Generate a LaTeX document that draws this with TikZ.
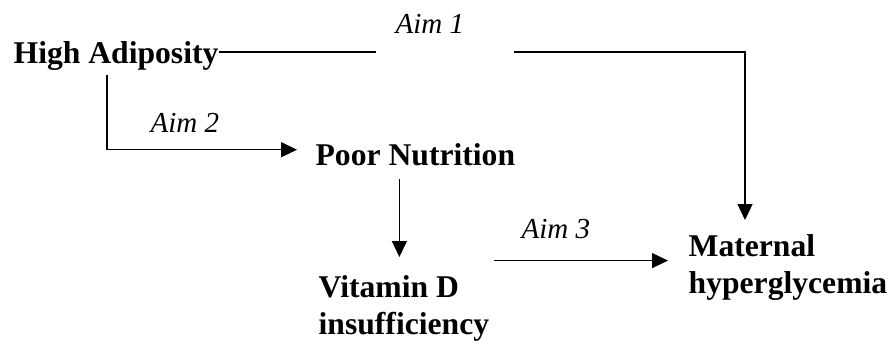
\documentclass[tikz,border=0pt]{standalone}
\usepackage{fontspec}
\setmainfont{Liberation Serif}
\usepackage{tikz}
\usetikzlibrary{arrows.meta}

\begin{document}
\begin{tikzpicture}[>={Triangle[length=0.32cm,width=0.3cm]}, line width=0.75pt,
        factor/.style={inner sep=0pt,align=left,font=\bfseries\fontsize{18}{21}\selectfont},
        aim/.style={inner sep=0pt,anchor=base west,font=\itshape\fontsize{16.5}{19}\selectfont}]
        \useasboundingbox (0,0) rectangle (17.82,6.86);
        %\tikzset{aim/.style={midway,font=\small}}
        \node[factor,anchor=base west] (ha) at (0.26,5.60) {High Adiposity};
        \node[factor,anchor=base west] (pn) at (6.30,3.56) {Poor Nutrition};
        \node[factor,anchor=north west] (vd) at (6.36,1.36) {Vitamin D\\insufficiency};
        \node[factor,anchor=north west] (mh) at (13.76,2.18) {Maternal\\hyperglycemia};

        \node[aim] (aim1) at (7.90,6.20) {Aim 1};
        \node[aim] (aim2) at (3.00,4.22) {Aim 2};
        \node[aim] (aim3) at (10.42,2.10) {Aim 3};

        \coordinate (a1l) at (7.52,5.82);
        \coordinate (a1r) at (10.28,5.82);
        \coordinate (a1x) at (14.90,5.82);

        \draw (ha.east |- a1l) -- (a1l);
        \draw[->,shorten >=0.28cm] (a1r) -- (a1x) -- (a1x |- mh.north);

        \draw[->,shorten <=0.08cm,shorten >=0.36cm] ([xshift=-0.18cm]ha.south) |- ([yshift=0.09cm]pn.west);

        \draw[->,shorten <=0.26cm,shorten >=0.36cm] ([xshift=-0.09cm]vd.north |- pn.south) -- ([xshift=-0.09cm]vd.north);

        \draw[->,shorten <=0.08cm,shorten >=0.4cm] ([yshift=0.14cm]vd.east |- mh.west) -- ([yshift=0.14cm]mh.west);
    \end{tikzpicture}
\end{document}
